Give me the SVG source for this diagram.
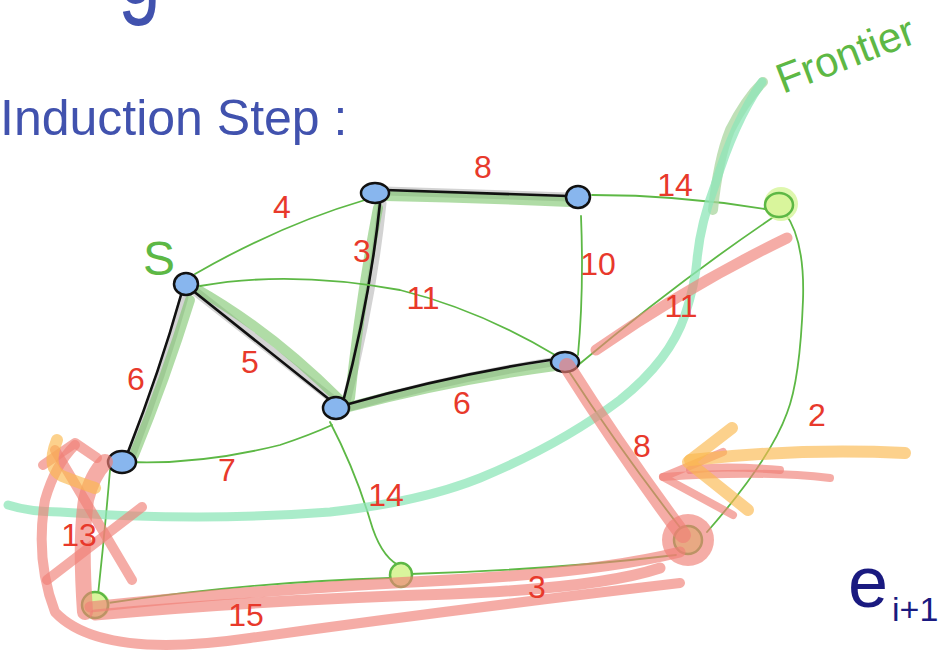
<svg xmlns="http://www.w3.org/2000/svg" width="945" height="654" viewBox="0 0 945 654">
<style>
.bg{fill:#fff}
.shadow{fill:none;stroke:#c8c8c8;stroke-width:9;stroke-linecap:round;opacity:.8}
.tree{fill:none;stroke:#7cc46a;stroke-width:10;stroke-linecap:round;opacity:.6}
.thick{fill:none;stroke:#111;stroke-width:2.6;stroke-linecap:round}
.thin{fill:none;stroke:#5db845;stroke-width:1.8;stroke-linecap:round}
.red{fill:none;stroke:#ef7f76;stroke-linecap:round;stroke-linejoin:round;opacity:.65}
.orange{fill:none;stroke:#fbb84e;stroke-linecap:round;stroke-linejoin:round;opacity:.65}
.mint{fill:none;stroke:#8ee6b8;stroke-width:9;stroke-linecap:round;stroke-linejoin:round;opacity:.75}
.sage{fill:none;stroke:#a9d69f;stroke-width:10;stroke-linecap:round;opacity:.75}
.bn{fill:#88b6ee;stroke:#111;stroke-width:2.5}
.gh{fill:#d6f59a;opacity:.8}
.gn{fill:#d9f59c;stroke:#5db845;stroke-width:2.5}
.lbl{font-family:"Liberation Sans",Arial,sans-serif;font-size:32px;fill:#e8392b;text-anchor:middle}
.hand{font-family:"Liberation Sans",Arial,sans-serif}
</style>
<rect class="bg" x="0" y="0" width="945" height="654"/>

<!-- titles -->
<text class="hand" x="0" y="0" font-size="110" fill="#4152ae" transform="translate(118 3) scale(0.7 1)">g</text>
<text class="hand" x="0" y="135" font-size="50" fill="#4152ae">Induction Step :</text>
<text class="hand" x="783" y="94" font-size="42" fill="#5db845" transform="rotate(-21 783 94)">Frontier</text>
<text class="hand" x="143" y="275" font-size="48" fill="#5db845">S</text>
<text class="hand" x="848" y="607" font-size="72" fill="#1a1a80">e</text>
<text class="hand" x="892" y="621" font-size="34" fill="#1a1a80">i+1</text>

<!-- connectors -->
<g id="connectors">
  <path class="shadow" d="M385,191 L568,197"/>
  <path class="shadow" d="M382,203 Q372,300 346,402"/>
  <path class="shadow" d="M196,292 L336,402"/>
  <path class="shadow" d="M184,297 Q163,372 132,454"/>
  <path class="shadow" d="M345,408 Q450,378 552,362"/>
  <path class="tree" d="M385,196 Q480,198 570,202"/>
  <path class="tree" d="M378,208 Q360,300 350,398"/>
  <path class="tree" d="M195,288 Q270,330 340,400"/>
  <path class="tree" d="M190,300 Q165,380 134,455"/>
  <path class="tree" d="M345,408 Q450,380 555,366"/>
  <path class="thick" d="M385,190 L568,196"/>
  <path class="thick" d="M380,203 Q370,300 343,402"/>
  <path class="thick" d="M192,290 L330,400"/>
  <path class="thick" d="M181,295 Q160,370 128,452"/>
  <path class="thick" d="M345,405 Q450,375 550,360"/>
  <path class="thin" d="M195,274 Q280,225 365,200"/>
  <path class="thin" d="M592,195 Q680,195 765,209"/>
  <path class="thin" d="M581,216 Q584,290 578,355"/>
  <path class="thin" d="M200,286 Q290,270 400,290 Q480,310 555,355"/>
  <path class="thin" d="M577,366 Q680,280 775,216"/>
  <path class="thin" d="M785,213 Q805,240 803,300 Q800,380 787,413 Q770,460 707,532"/>
  <path class="thin" d="M568,370 Q620,450 682,530"/>
  <path class="thin" d="M330,422 Q355,470 370,520 Q380,555 398,565"/>
  <path class="thin" d="M128,462 Q200,465 280,445 Q310,435 332,425"/>
  <path class="thin" d="M110,470 Q105,530 98,595"/>
  <path class="thin" d="M108,603 Q250,582 390,578"/>
  <path class="thin" d="M410,574 Q550,570 676,555"/>
</g>

<!-- nodes -->
<g id="node-s"><ellipse class="bn" cx="186" cy="284" rx="12" ry="11"/></g>
<g id="node-a"><ellipse class="bn" cx="375" cy="193" rx="14" ry="10"/></g>
<g id="node-b"><ellipse class="bn" cx="578" cy="197" rx="12" ry="11"/></g>
<g id="node-c"><ellipse class="bn" cx="336" cy="408" rx="13" ry="11"/></g>
<g id="node-d"><ellipse class="bn" cx="565" cy="362" rx="14" ry="10"/></g>
<g id="node-e"><ellipse class="bn" cx="122" cy="462" rx="14" ry="11"/></g>
<g id="node-f"><circle class="gh" cx="781" cy="204" r="17"/><ellipse class="gn" cx="779" cy="205" rx="14" ry="12"/></g>
<g id="node-g"><circle class="gn" cx="688" cy="540" r="14"/></g>
<g id="node-h"><circle class="gh" cx="401" cy="575" r="12"/><ellipse class="gn" cx="401" cy="575" rx="11" ry="12"/></g>
<g id="node-i"><circle class="gh" cx="96" cy="605" r="14"/><ellipse class="gn" cx="95" cy="605" rx="13" ry="13"/></g>

<!-- annotations -->
<g id="annotations">
  <path class="sage" d="M713,210 Q718,160 730,130 Q745,100 763,82"/>
  <path class="mint" d="M8,505 Q30,512 60,512 Q200,522 330,512 Q420,502 480,478 Q560,445 620,400 Q670,360 685,315 Q695,285 697,260 Q700,225 715,185 Q735,120 762,82"/>
  <path class="red" stroke-width="16" d="M567,366 Q620,450 683,535"/>
  <path class="red" stroke-width="11" d="M596,350 Q690,285 787,238"/>
  <circle cx="688" cy="540" r="26" fill="#ef7f76" opacity=".65"/>
  <path class="red" stroke-width="11" d="M90,607 Q250,590 450,580 Q600,572 680,552"/>
  <path class="red" stroke-width="11" d="M95,615 Q260,600 450,594 Q600,588 660,568"/>
  <path class="red" stroke-width="10" d="M680,583 Q450,610 250,638 Q100,660 55,612 Q35,560 45,500 Q55,465 75,445"/>
  <path class="red" stroke-width="10" d="M43,465 L75,443 L97,458"/>
  <path class="red" stroke-width="16" d="M85,612 Q80,540 86,500 Q92,475 105,462"/>
  <path class="red" stroke-width="10" d="M47,580 L142,507"/>
  <path class="red" stroke-width="10" d="M55,450 L132,580"/>
  <path class="red" stroke-width="8" d="M830,478 Q760,470 663,477"/>
  <path class="red" stroke-width="8" d="M780,470 Q720,465 690,470"/>
  <path class="red" stroke-width="8" d="M723,452 L663,477 L733,515"/>
  <path class="orange" stroke-width="12" d="M905,453 Q800,448 690,460"/>
  <path class="orange" stroke-width="12" d="M732,428 L688,462 L748,510"/>
  <path class="orange" stroke-width="12" d="M57,440 Q46,468 62,476 Q80,483 95,488"/>
</g>

<!-- labels -->
<g id="labels">
  <text class="lbl" x="282" y="218">4</text>
  <text class="lbl" x="483" y="178">8</text>
  <text class="lbl" x="362" y="262">3</text>
  <text class="lbl" x="423" y="309">11</text>
  <text class="lbl" x="250" y="373">5</text>
  <text class="lbl" x="136" y="390">6</text>
  <text class="lbl" x="462" y="414">6</text>
  <text class="lbl" x="598" y="275">10</text>
  <text class="lbl" x="675" y="196">14</text>
  <text class="lbl" x="681" y="317">11</text>
  <text class="lbl" x="817" y="426">2</text>
  <text class="lbl" x="642" y="457">8</text>
  <text class="lbl" x="227" y="481">7</text>
  <text class="lbl" x="386" y="506">14</text>
  <text class="lbl" x="79" y="546">13</text>
  <text class="lbl" x="246" y="626">15</text>
  <text class="lbl" x="537" y="598">3</text>
</g>
</svg>
